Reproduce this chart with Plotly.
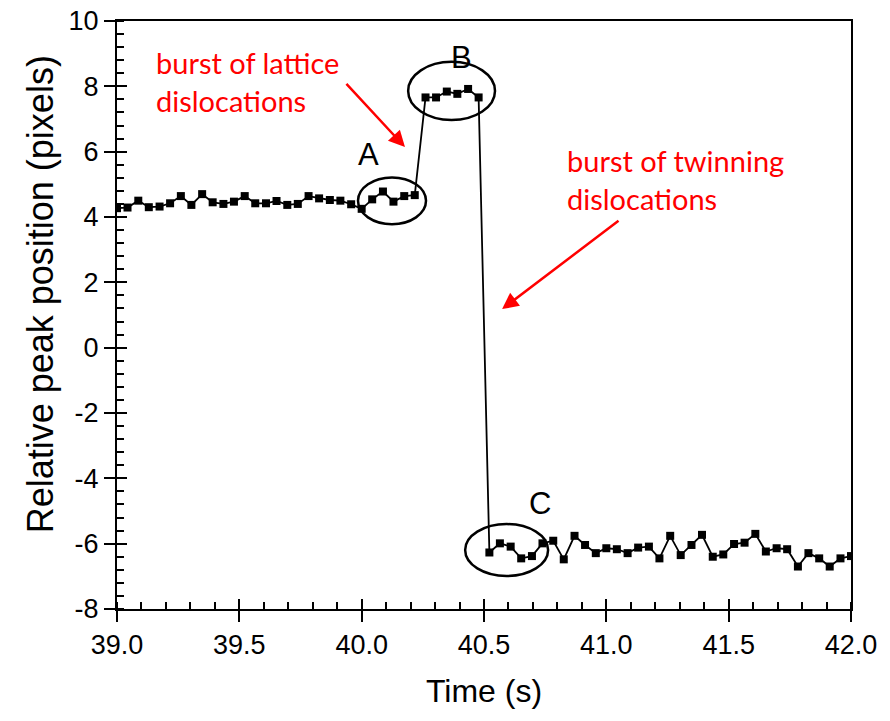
import plotly.graph_objects as go

time_s = [39.000, 39.043, 39.087, 39.130, 39.174, 39.217, 39.261, 39.304, 39.348, 39.391,
          39.435, 39.478, 39.522, 39.565, 39.609, 39.652, 39.696, 39.739, 39.783, 39.826,
          39.870, 39.913, 39.957, 40.000, 40.043, 40.087, 40.130, 40.174, 40.217, 40.261,
          40.304, 40.348, 40.391, 40.435, 40.478, 40.522, 40.565, 40.609, 40.652, 40.696,
          40.739, 40.783, 40.826, 40.870, 40.913, 40.957, 41.000, 41.043, 41.087, 41.130,
          41.174, 41.217, 41.261, 41.304, 41.348, 41.391, 41.435, 41.478, 41.522, 41.565,
          41.609, 41.652, 41.696, 41.739, 41.783, 41.826, 41.870, 41.913, 41.957, 42.000]

peak_pos = [4.27, 4.29, 4.50, 4.30, 4.32, 4.42, 4.64, 4.37, 4.70, 4.45,
            4.40, 4.47, 4.64, 4.42, 4.42, 4.49, 4.37, 4.40, 4.64, 4.57,
            4.52, 4.50, 4.39, 4.25, 4.54, 4.78, 4.47, 4.64, 4.67, 7.66,
            7.66, 7.84, 7.77, 7.92, 7.66, -6.27, -5.99, -6.09, -6.45, -6.38,
            -5.99, -5.91, -6.48, -5.76, -6.04, -6.29, -6.14, -6.17, -6.29, -6.12,
            -6.09, -6.45, -5.76, -6.35, -6.04, -5.73, -6.40, -6.33, -6.01, -5.97,
            -5.70, -6.24, -6.14, -6.17, -6.70, -6.29, -6.45, -6.70, -6.45, -6.38]

x_range = [39.0, 42.0]
y_range = [-8, 10]
x_tickvals = [39.0, 39.5, 40.0, 40.5, 41.0, 41.5, 42.0]
x_ticktext = ["39.0", "39.5", "40.0", "40.5", "41.0", "41.5", "42.0"]
y_tickvals = [-8, -6, -4, -2, 0, 2, 4, 6, 8, 10]
y_ticktext = ["-8", "-6", "-4", "-2", "0", "2", "4", "6", "8", "10"]
y_title = "Relative peak position (pixels)"
x_title = "Time (s)"

# region labels and their ellipses (data coords)
region_labels = ["A", "B", "C"]
region_label_pos = [(40.026, 5.90), (40.41, 8.88), (40.73, -4.76)]
ellipses = [(39.985, 3.78, 40.263, 5.21), (40.19, 6.97, 40.545, 8.75), (40.423, -6.99, 40.762, -5.40)]

notes = ["burst of lattice<br>dislocations", "burst of twinning<br>dislocations"]
note_pos = [(39.15, 8.15), (40.83, 5.14)]
arrow_tail = [(39.932, 8.12), (41.056, 3.92)]
arrow_head = [(40.177, 6.14), (40.574, 1.18)]

font_axis = "Liberation Sans, Arial, sans-serif"

fig = go.Figure()
fig.add_trace(go.Scatter(
    x=time_s, y=peak_pos, mode="lines+markers",
    line=dict(color="black", width=1.8),
    marker=dict(symbol="square", size=8, color="black"),
    showlegend=False, hoverinfo="skip"))
# invisible twin trace to host the overlay axes (inner halves of major ticks)
fig.add_trace(go.Scatter(x=time_s, y=peak_pos, xaxis="x2", yaxis="y2",
                         mode="markers", marker=dict(opacity=0), showlegend=False,
                         hoverinfo="skip"))

for (x0, y0, x1, y1) in ellipses:
    fig.add_shape(type="circle", xref="x", yref="y", x0=x0, y0=y0, x1=x1, y1=y1,
                  line=dict(color="black", width=2.5))

for lab, (lx, ly) in zip(region_labels, region_label_pos):
    fig.add_annotation(x=lx, y=ly, text=lab, showarrow=False,
                       font=dict(family=font_axis, size=31, color="black"))

for txt, (nx, ny) in zip(notes, note_pos):
    fig.add_annotation(x=nx, y=ny, text=txt, showarrow=False, xanchor="left",
                       align="left", font=dict(family="Lato, sans-serif", size=29, color="#ff0000"))

for (tx, ty), (hx, hy) in zip(arrow_tail, arrow_head):
    fig.add_annotation(x=hx, y=hy, ax=tx, ay=ty, xref="x", yref="y", axref="x", ayref="y",
                       text="", showarrow=True, arrowhead=2, arrowsize=1.3, arrowwidth=2.5,
                       arrowcolor="#ff0000")

# y-axis title as a rotated annotation (positioned like the original)
fig.add_annotation(x=-0.105, y=0.535, xref="paper", yref="paper", text=y_title,
                   textangle=-90, showarrow=False, xanchor="center", yanchor="middle",
                   font=dict(family=font_axis, size=36, color="black"))

tickfont = dict(family=font_axis, size=27, color="black")
fig.update_layout(
    width=890, height=721,
    margin=dict(l=117, r=39, t=21, b=112),
    paper_bgcolor="white", plot_bgcolor="white",
    xaxis=dict(range=x_range, tickmode="array", tickvals=x_tickvals, ticktext=x_ticktext,
               showgrid=False, zeroline=False, showline=True, linecolor="black", linewidth=2,
               mirror=True, ticks="outside", ticklen=11, tickwidth=2, tickcolor="black",
               minor=dict(tickmode="linear", tick0=39, dtick=0.1, ticks="inside", ticklen=7,
                          tickwidth=1.5, tickcolor="black"),
               tickfont=tickfont, automargin=False,
               title=dict(text=x_title, font=dict(family=font_axis, size=32, color="black"),
                          standoff=20)),
    yaxis=dict(range=y_range, tickmode="array", tickvals=y_tickvals, ticktext=y_ticktext,
               showgrid=False, zeroline=False, showline=True, linecolor="black", linewidth=2,
               mirror=True, ticks="outside", ticklen=11, tickwidth=2, tickcolor="black",
               minor=dict(tickmode="linear", tick0=0, dtick=0.4, ticks="inside", ticklen=7,
                          tickwidth=1.5, tickcolor="black"),
               tickfont=tickfont, automargin=False),
    xaxis2=dict(range=x_range, overlaying="x", anchor="y", side="bottom",
                tickmode="array", tickvals=x_tickvals, automargin=False,
                showgrid=False, zeroline=False, showline=False, showticklabels=False,
                ticks="inside", ticklen=10, tickwidth=2, tickcolor="black"),
    yaxis2=dict(range=y_range, overlaying="y", anchor="x", side="left",
                tickmode="array", tickvals=y_tickvals, automargin=False,
                showgrid=False, zeroline=False, showline=False, showticklabels=False,
                ticks="inside", ticklen=10, tickwidth=2, tickcolor="black"),
)

fig.write_html("out.html")
